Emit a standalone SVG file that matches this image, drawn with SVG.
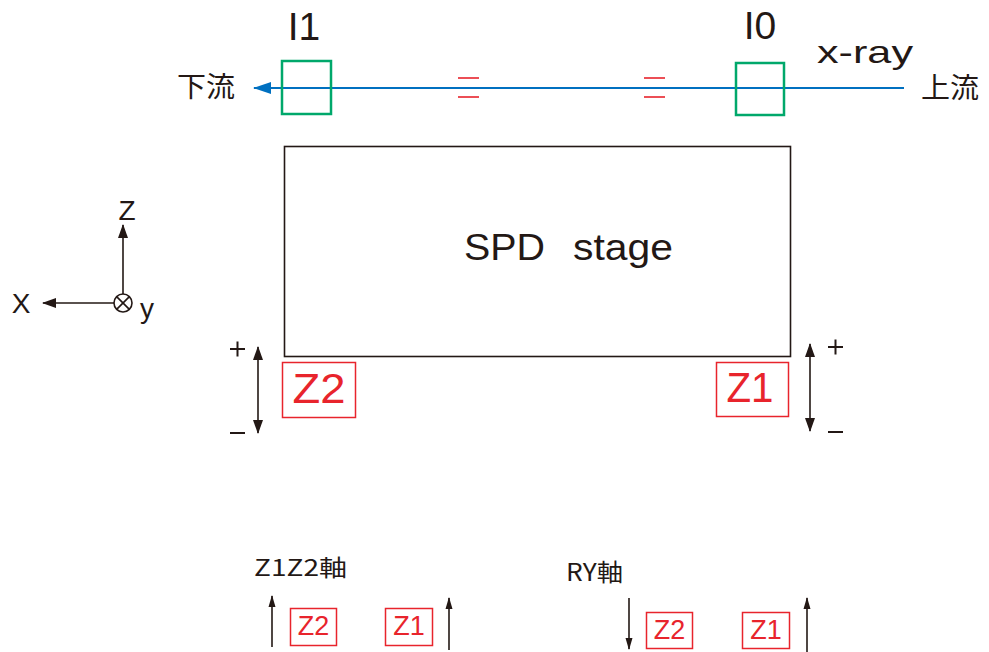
<svg xmlns="http://www.w3.org/2000/svg" width="989" height="652" viewBox="0 0 989 652">
<style>
.t{font-family:"Liberation Sans","Noto Sans CJK JP",sans-serif;fill:#231815}
.j{font-family:"Noto Sans CJK JP","Liberation Sans",sans-serif;fill:#231815}
.r{font-family:"Liberation Sans",sans-serif;fill:#e8242c}
.rs{font-family:"Liberation Sans",sans-serif;fill:#e8242c;font-size:27px}
.rb{fill:none;stroke:#e8242c;stroke-width:1.5}
.gb{fill:none;stroke:#00a86b;stroke-width:2.5}
.ln{stroke:#231815;stroke-width:1.6;fill:none}
.pm{stroke:#231815;stroke-width:2;fill:none}
.eq{stroke:#e8242c;stroke-width:1.6}
</style>
<defs>
<marker id="ah" markerUnits="userSpaceOnUse" markerWidth="14" markerHeight="10" refX="13" refY="5" orient="auto-start-reverse" viewBox="0 0 14 10"><path d="M0,0 L14,5 L0,10 Z" fill="#231815"/></marker>
<marker id="ahs" markerUnits="userSpaceOnUse" markerWidth="12" markerHeight="8" refX="11" refY="4" orient="auto-start-reverse" viewBox="0 0 12 8"><path d="M0,0.5 L12,4 L0,7.5 Z" fill="#231815"/></marker>
<marker id="ahb" markerUnits="userSpaceOnUse" markerWidth="18" markerHeight="12" refX="17" refY="6" orient="auto" viewBox="0 0 18 12"><path d="M0,0 L18,6 L0,12 Z" fill="#0070c0"/></marker>
</defs>

<g id="beam">
<line x1="904" y1="88" x2="254" y2="88" stroke="#0070c0" stroke-width="2" marker-end="url(#ahb)"/>
<text class="j" x="177" y="97" font-size="28" textLength="58" lengthAdjust="spacingAndGlyphs">下流</text>
<text class="j" x="921" y="98" font-size="28" textLength="58" lengthAdjust="spacingAndGlyphs">上流</text>
<text class="t" x="817" y="63" font-size="32" textLength="96" lengthAdjust="spacingAndGlyphs">x-ray</text>
<line class="eq" x1="458" y1="78" x2="479" y2="78"/>
<line class="eq" x1="458" y1="97" x2="479" y2="97"/>
<line class="eq" x1="644" y1="78" x2="665" y2="78"/>
<line class="eq" x1="644" y1="97" x2="665" y2="97"/>
</g>

<g id="I1">
<rect class="gb" x="282" y="61" width="49" height="53"/>
<text class="t" x="304" y="40" font-size="39" text-anchor="middle">I1</text>
</g>
<g id="I0">
<rect class="gb" x="736" y="63" width="48" height="52"/>
<text class="t" x="760" y="39" font-size="39" text-anchor="middle">I0</text>
</g>

<g id="stage">
<rect x="284.5" y="146.5" width="506" height="210" fill="none" stroke="#231815" stroke-width="1.6"/>
<text class="t" x="464" y="260" font-size="37" textLength="81" lengthAdjust="spacingAndGlyphs">SPD</text>
<text class="t" x="573" y="260" font-size="37" textLength="100" lengthAdjust="spacingAndGlyphs">stage</text>
</g>

<g id="axes">
<line class="ln" x1="123" y1="294" x2="123" y2="225" marker-end="url(#ah)"/>
<line class="ln" x1="114" y1="303" x2="43" y2="303" marker-end="url(#ah)"/>
<circle cx="123" cy="303" r="9" fill="none" stroke="#231815" stroke-width="1.6"/>
<line class="ln" x1="116.6" y1="296.6" x2="129.4" y2="309.4"/>
<line class="ln" x1="129.4" y1="296.6" x2="116.6" y2="309.4"/>
<text class="t" x="127" y="220" font-size="28" text-anchor="middle">Z</text>
<text class="t" x="21" y="313" font-size="28" text-anchor="middle">X</text>
<text class="t" x="140" y="318" font-size="28">y</text>
</g>

<g id="Z2">
<rect class="rb" x="282.5" y="362.5" width="73" height="55"/>
<text class="r" x="319" y="403" font-size="42" text-anchor="middle" textLength="53" lengthAdjust="spacingAndGlyphs">Z2</text>
<line class="ln" x1="258" y1="347" x2="258" y2="433" marker-start="url(#ah)" marker-end="url(#ah)"/>
<path class="pm" d="M230,349 H245 M237.5,341.5 V356.5 M230,433 H245"/>
</g>

<g id="Z1">
<rect class="rb" x="716.5" y="362.5" width="72" height="54"/>
<text class="r" x="750" y="402" font-size="42" text-anchor="middle" textLength="47" lengthAdjust="spacingAndGlyphs">Z1</text>
<line class="ln" x1="810" y1="344" x2="810" y2="431" marker-start="url(#ah)" marker-end="url(#ah)"/>
<path class="pm" d="M828,347 H843 M835.5,339.5 V354.5 M828,432 H843"/>
</g>

<g id="z1z2-axis">
<text class="j" x="254" y="576" font-size="23" textLength="93" lengthAdjust="spacingAndGlyphs">Z1Z2軸</text>
<line class="ln" x1="272" y1="647" x2="272" y2="596" marker-end="url(#ahs)"/>
<rect class="rb" x="290.5" y="608.5" width="46" height="37"/>
<text class="rs" x="313.5" y="635" text-anchor="middle">Z2</text>
<rect class="rb" x="385.5" y="608.5" width="47" height="37"/>
<text class="rs" x="409" y="635" text-anchor="middle">Z1</text>
<line class="ln" x1="449" y1="650" x2="449" y2="598" marker-end="url(#ahs)"/>
</g>

<g id="ry-axis">
<text class="j" x="566" y="581" font-size="24" textLength="57" lengthAdjust="spacingAndGlyphs">RY軸</text>
<line class="ln" x1="629" y1="598" x2="629" y2="649" marker-end="url(#ahs)"/>
<rect class="rb" x="646.5" y="612.5" width="46" height="36"/>
<text class="rs" x="669.5" y="639" text-anchor="middle">Z2</text>
<rect class="rb" x="742.5" y="612.5" width="47" height="36"/>
<text class="rs" x="766" y="639" text-anchor="middle">Z1</text>
<line class="ln" x1="807" y1="652" x2="807" y2="598" marker-end="url(#ahs)"/>
</g>
</svg>
